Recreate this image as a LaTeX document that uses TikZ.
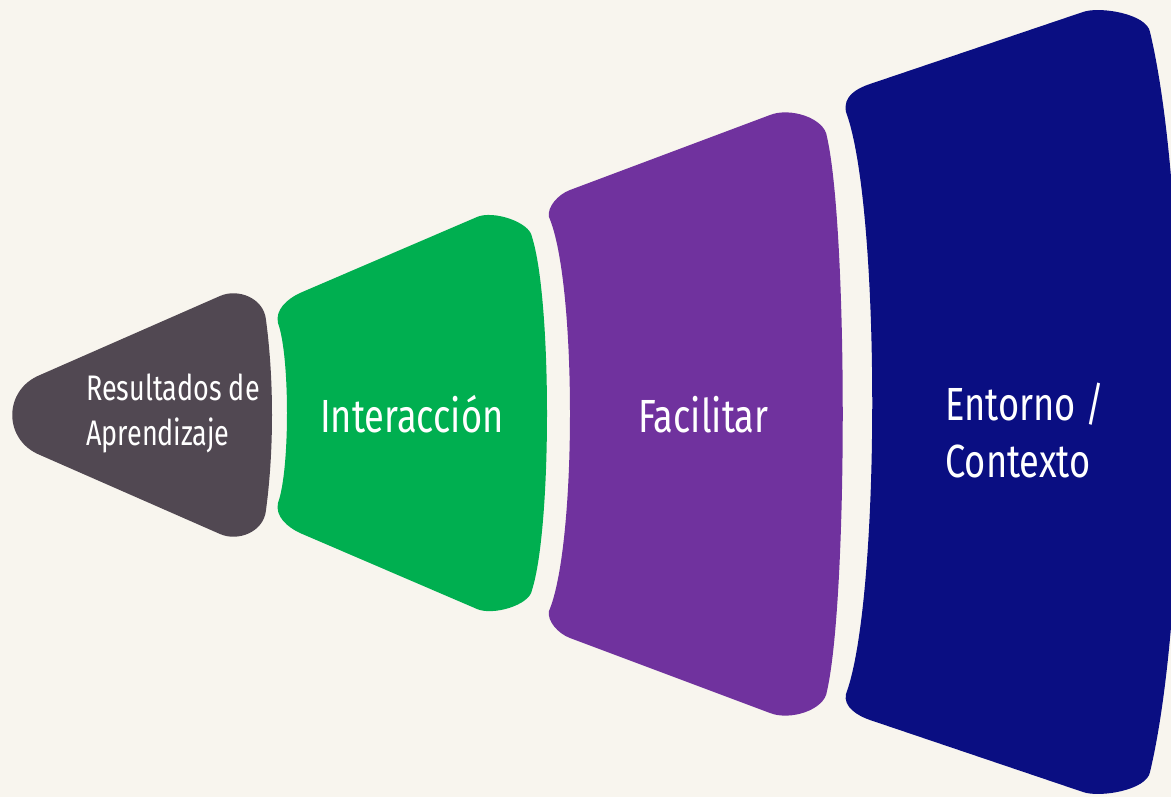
\documentclass[tikz,border=0pt]{standalone}
\usepackage{fontspec}
\setmainfont{Fira Sans}
\newfontfamily\lblfont[FakeStretch=0.78]{Fira Sans}
\newfontfamily\smlfont[FakeStretch=0.76]{Fira Sans}
\definecolor{bgc}{HTML}{F8F5EE}
\definecolor{grayc}{HTML}{514852}
\definecolor{greenc}{HTML}{00AF50}
\definecolor{purplec}{HTML}{70329E}
\definecolor{navyc}{HTML}{0A0E82}
\tikzset{
  lbl/.style={text=white, inner sep=0pt, align=left, font=\lblfont\fontsize{46.5}{57}\selectfont},
  smalllbl/.style={text=white, inner sep=0pt, align=left, font=\smlfont\fontsize{35.5}{45}\selectfont},
}
\begin{document}
\begin{tikzpicture}[x=1pt,y=-1pt]
\fill[bgc] (0,0) rectangle (1171,797);
\useasboundingbox (0,0) rectangle (1171,797);
% gray
\fill[grayc] (40,375) -- (220,296)
  .. controls (238,288) and (264,298) .. (266,320)
  .. controls (274,380) and (274,450) .. (266,510)
  .. controls (264,532) and (238,542) .. (220,534)
  -- (40,455)
  .. controls (3,440) and (3,390) .. (40,375) -- cycle;
% green
\fill[greenc] (278,503) .. controls (290,470) and (290,356) .. (278,323)
  .. controls (275,310) and (287,299) .. (300,293)
  -- (477,217)
  .. controls (493,210) and (530,222) .. (532,237)
  .. controls (552,300) and (552,527) .. (532,590)
  .. controls (530,605) and (493,616) .. (477,609)
  -- (300,533)
  .. controls (287,527) and (275,516) .. (278,503) -- cycle;
% purple
\fill[purplec] (549,611) .. controls (577,545) and (577,282) .. (549,217)
  .. controls (547,207) and (558,194.5) .. (570,190)
  -- (770,115)
  .. controls (790,107) and (825,118) .. (827,137)
  .. controls (848,230) and (848,598) .. (827,691)
  .. controls (825,710) and (790,721) .. (770,713)
  -- (570,638)
  .. controls (558,633.5) and (547,621) .. (549,611) -- cycle;
% navy
\fill[navyc] (846,694) .. controls (881,600) and (881,206) .. (846,112)
  .. controls (843,97) and (855,89) .. (870,84)
  -- (1083,12)
  .. controls (1100,6) and (1147,14) .. (1150,32)
  .. controls (1190,200) and (1190,604) .. (1150,772)
  .. controls (1147,790) and (1100,798) .. (1083,792)
  -- (870,720)
  .. controls (858,716) and (843,707) .. (846,694) -- cycle;
\node[smalllbl, anchor=base west] (res) at (86,445) {Resultados de\\Aprendizaje};
\node[lbl, anchor=base west] (int) at (320,432) {Interacción};
\node[lbl, anchor=base west] (fac) at (638,432) {Facilitar};
\node[lbl, anchor=base west] (ent) at (945,477) {Entorno /\\Contexto};
\end{tikzpicture}
\end{document}
